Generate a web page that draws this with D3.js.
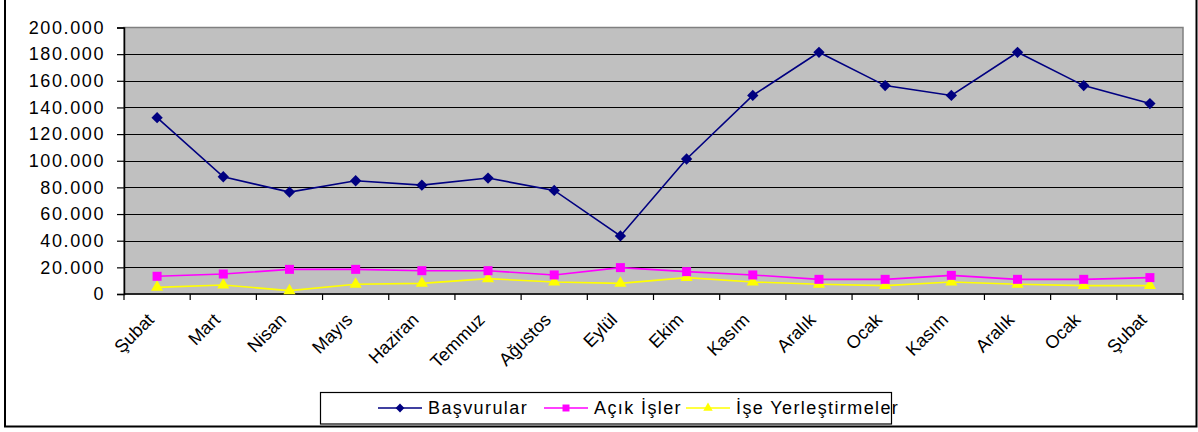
<!DOCTYPE html>
<html>
<head>
<meta charset="utf-8">
<script src="https://cdn.jsdelivr.net/npm/d3@7"></script>
<style>
body { margin:0; background:#fff; }
text { font-family: Arial, "Liberation Sans", sans-serif; fill:#000; }
</style>
</head>
<body>
<div id="chart"></div>
<script>
var months = ["Şubat","Mart","Nisan","Mayıs","Haziran","Temmuz","Ağustos","Eylül","Ekim","Kasım","Aralık","Ocak","Kasım","Aralık","Ocak","Şubat"];
var basvurular = [132300,88000,76500,85000,81700,87000,77700,43600,101300,149000,181400,156400,149000,181400,156400,142900];
var acikIsler = [13300,15000,18500,18500,17500,17500,14300,19800,16800,14300,11000,11000,14000,11000,11000,12300];
var iseYerlestirme = [5000,6800,2500,7300,8000,11500,9000,8000,12300,9000,7300,6300,9000,7300,6300,6300];
var yTicks = [0,20000,40000,60000,80000,100000,120000,140000,160000,180000,200000];
var seriesNames = ["Başvurular","Açık İşler","İşe Yerleştirmeler"];

var w = 1198, h = 432;
var pLeft = 124, pRight = 1183, pTop = 27.5, pBottom = 294;

var svg = d3.select("#chart").append("svg").attr("width", w).attr("height", h);

// outer frame
svg.append("rect").attr("x",5).attr("y",-3).attr("width",1191.5).attr("height",429.5)
  .attr("fill","#fff").attr("stroke","#000").attr("stroke-width",2);

var idx = months.map(function(d,i){ return i; });
var x = d3.scaleBand().domain(idx).range([pLeft, pRight]);
var y = d3.scaleLinear().domain([0,200000]).range([pBottom, pTop]);

// plot area
svg.append("rect").attr("x",pLeft).attr("y",pTop).attr("width",pRight-pLeft).attr("height",pBottom-pTop)
  .attr("fill","#c0c0c0").attr("stroke","#808080").attr("stroke-width",1.5);

svg.selectAll("line.grid").data(yTicks.slice(1,-1)).enter().append("line")
  .attr("class","grid")
  .attr("x1",pLeft).attr("x2",pRight)
  .attr("y1",function(d){ return Math.round(y(d))+0.5; })
  .attr("y2",function(d){ return Math.round(y(d))+0.5; })
  .attr("stroke","#000").attr("stroke-width",1.2);

var fmt = function(d){ return d === 0 ? "0" : d3.format(",")(d).replace(/,/g,"."); };

var yAxis = svg.append("g").attr("transform","translate("+pLeft+",0)")
  .call(d3.axisLeft(y).tickValues(yTicks).tickFormat(fmt).tickSize(7).tickPadding(12));
yAxis.attr("font-size",null).attr("font-family",null);
yAxis.select(".domain").attr("stroke","#000").attr("stroke-width",1.5);
yAxis.selectAll(".tick line").attr("stroke","#000").attr("stroke-width",1.2);
yAxis.selectAll("text").style("font-size","18px").style("letter-spacing","1.6px");

// x axis ticks at band edges
var xEdges = idx.map(function(i){ return x(i); }).concat([pRight]);
var xAxisG = svg.append("g");
xAxisG.append("line").attr("x1",pLeft).attr("x2",pRight).attr("y1",pBottom).attr("y2",pBottom)
  .attr("stroke","#000").attr("stroke-width",1.5);
xAxisG.selectAll("line.tk").data(xEdges).enter().append("line").attr("class","tk")
  .attr("x1",function(d){return d;}).attr("x2",function(d){return d;})
  .attr("y1",pBottom).attr("y2",pBottom+6).attr("stroke","#000").attr("stroke-width",1.2);

// month labels, turned -45deg, end of text near the tick
xAxisG.selectAll("text.xl").data(months).enter().append("text").attr("class","xl")
  .attr("transform",function(d,i){ return "translate("+(x(i)+x.bandwidth()/2-11)+","+(pBottom+18)+") rotate(-45)"; })
  .attr("text-anchor","end").attr("dy","0.7em")
  .style("font-size","18px")
  .text(function(d){ return d; });

var cx = function(d,i){ return x(i)+x.bandwidth()/2; };
var line = d3.line().x(cx).y(function(d){ return y(d); });

var series = [
  {name: seriesNames[0], data: basvurular, color:"#000080", sym: d3.symbolSquare, size: 64, rot: 45},
  {name: seriesNames[1], data: acikIsler, color:"#ff00ff", sym: d3.symbolSquare, size: 81, rot: 0},
  {name: seriesNames[2], data: iseYerlestirme, color:"#ffff00", sym: d3.symbolTriangle, size: 64, rot: 0}
];

series.slice().reverse().forEach(function(s){
  svg.append("path").datum(s.data).attr("d", line)
    .attr("fill","none").attr("stroke", s.color).attr("stroke-width",1.6);
  svg.selectAll(null).data(s.data).enter().append("path")
    .attr("d", d3.symbol().type(s.sym).size(s.size))
    .attr("transform", function(d,i){ return "translate("+cx(d,i)+","+y(d)+") rotate("+s.rot+")"; })
    .attr("fill", s.color);
});

// legend
var lg = svg.append("g");
lg.append("rect").attr("x",320.5).attr("y",392.5).attr("width",571).attr("height",31.5)
  .attr("fill","#fff").attr("stroke","#000").attr("stroke-width",1.2);
var lx = [378, 544, 686];
series.forEach(function(s,i){
  var g = lg.append("g").attr("transform","translate("+lx[i]+",408)");
  g.append("line").attr("x1",0).attr("x2",44).attr("stroke",s.color).attr("stroke-width",1.6);
  g.append("path").attr("d", d3.symbol().type(s.sym).size(s.size*0.6))
    .attr("transform","translate(22,0) rotate("+s.rot+")").attr("fill",s.color);
  g.append("text").attr("x",50).attr("dy","0.36em").style("font-size","18px").style("letter-spacing","1.4px").text(s.name);
});
</script>
</body>
</html>
